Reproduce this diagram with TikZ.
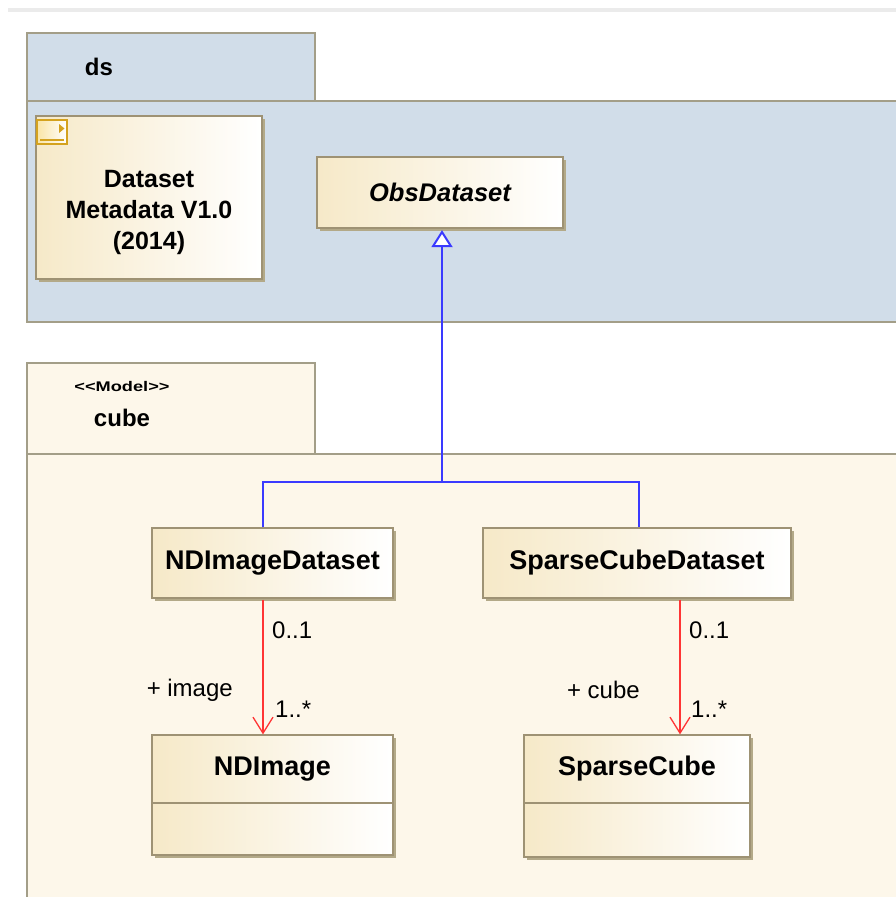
\documentclass[tikz,border=0pt]{standalone}
\usepackage{fontspec}
\setmainfont{Liberation Sans}
\usetikzlibrary{arrows.meta,shadows}

\definecolor{dsblue}{HTML}{D1DDE9}
\definecolor{cubebg}{HTML}{FDF7EA}
\definecolor{pkgline}{HTML}{A39E88}
\definecolor{clsline}{HTML}{9E9274}
\definecolor{clsleft}{HTML}{F6E9C8}
\definecolor{shadecol}{HTML}{B3A988}
\definecolor{genblue}{HTML}{3A3AFF}
\definecolor{assocred}{HTML}{FF3535}
\definecolor{topgray}{HTML}{EBEBEB}
\definecolor{iconline}{HTML}{D4A21E}
\definecolor{iconfill}{HTML}{F9E4A6}

\begin{document}
\begin{tikzpicture}[x=1pt,y=-1pt,
  pkg/.style={draw=pkgline, line width=1.3pt},
  cls/.style={draw=clsline, line width=1.3pt, left color=clsleft, right color=white,
    inner sep=0pt, drop shadow={shadow xshift=2.5pt, shadow yshift=-2.5pt, fill=shadecol, opacity=1}},
  clsname/.style={font=\fontsize{27}{32}\selectfont\bfseries},
  pkgname/.style={font=\fontsize{24}{28}\selectfont\bfseries},
  lbl/.style={font=\fontsize{24}{28}\selectfont, inner sep=0pt},
  gen/.style={draw=genblue, line width=2pt},
  assoc/.style={draw=assocred, line width=1.3pt, -{Straight Barb[length=16pt, width=20pt, line width=1.3pt]}},
]
\useasboundingbox (0,0) rectangle (896,897);
\clip (0,0) rectangle (896,897);
\fill[white] (0,0) rectangle (896,897);
\fill[topgray] (8,8) rectangle (896,12);

% ds package
\filldraw[pkg, fill=dsblue] (27,33) rectangle (315,101);
\filldraw[pkg, fill=dsblue] (27,101) rectangle (905,322);
\node[pkgname] (dsname) at (99,67) {ds};

% note
\node[cls, minimum width=226pt, minimum height=163pt] (note) at (149,197.5) {};
\filldraw[draw=iconline, line width=1.5pt, left color=iconfill, right color=white] (37,120) rectangle (67,144);
\fill[iconline] (59,124) -- (64.5,128.5) -- (59,133) -- cycle;
\draw[iconline, line width=1.5pt] (40,140) -- (64,140);
\node[align=center, font=\fontsize{25}{31}\selectfont\bfseries] (notetext) at (149,212) {Dataset\\Metadata V1.0\\(2014)};

% ObsDataset
\node[cls, minimum width=246pt, minimum height=71pt, font=\fontsize{25.5}{30}\selectfont\bfseries\itshape] (obs) at (440,192.5) {ObsDataset};

% cube package
\filldraw[pkg, fill=cubebg] (27,363) rectangle (315,454);
\filldraw[pkg, fill=cubebg] (27,454) rectangle (905,910);
\node[font=\fontsize{14}{16}\selectfont\bfseries] (stereo) at (122,386) {\scalebox{1.3}[1]{<{}<Model>{}>}};
\node[pkgname] (cubename) at (122,418) {cube};

% classes
\node[cls, minimum width=241pt, minimum height=70pt, clsname] (ndd) at (272.5,563) {NDImageDataset};
\node[cls, minimum width=308pt, minimum height=70pt, clsname] (scd) at (637,563) {SparseCubeDataset};

\node[cls, minimum width=241pt, minimum height=120pt] (ndi) at (272.5,795) {};
\node[clsname] (ndiname) at (272.5,769) {NDImage};
\draw[clsline, line width=1.3pt] (ndi.west |- 0,803) -- (ndi.east |- 0,803);

\node[cls, minimum width=226pt, minimum height=122pt] (sc) at (637,796) {};
\node[clsname] (scname) at (637,769) {SparseCube};
\draw[clsline, line width=1.3pt] (sc.west |- 0,803) -- (sc.east |- 0,803);

% generalization
\coordinate (hl) at (263,482);
\coordinate (hm) at (442,482);
\coordinate (hr) at (639,482);
\draw[gen, line width=1.6pt] (ndd.north -| hl) -- (hl) -- (hr) -- (scd.north -| hr);
\draw[gen, -{Triangle[fill=white, length=17pt, width=21pt, line width=2pt]}] (hm) -- ([yshift=-1.5pt]obs.south -| hm);

% associations
\coordinate (al) at (263,0);
\coordinate (ar) at (680,0);
\draw[assoc] ([yshift=-1pt]ndd.south -| al) -- (ndi.north -| al);
\draw[assoc] ([yshift=-1pt]scd.south -| ar) -- (sc.north -| ar);

\node[lbl, anchor=west] (l1) at (272,630) {0..1};
\node[lbl, anchor=west] (l2) at (275,709) {1..*};
\node[lbl, anchor=east] (l3) at (233,690) {+ image};
\node[lbl, anchor=west] (l4) at (689,630) {0..1};
\node[lbl, anchor=west] (l5) at (691,709) {1..*};
\node[lbl, anchor=east] (l6) at (640,690) {+ cube};
\end{tikzpicture}
\end{document}
